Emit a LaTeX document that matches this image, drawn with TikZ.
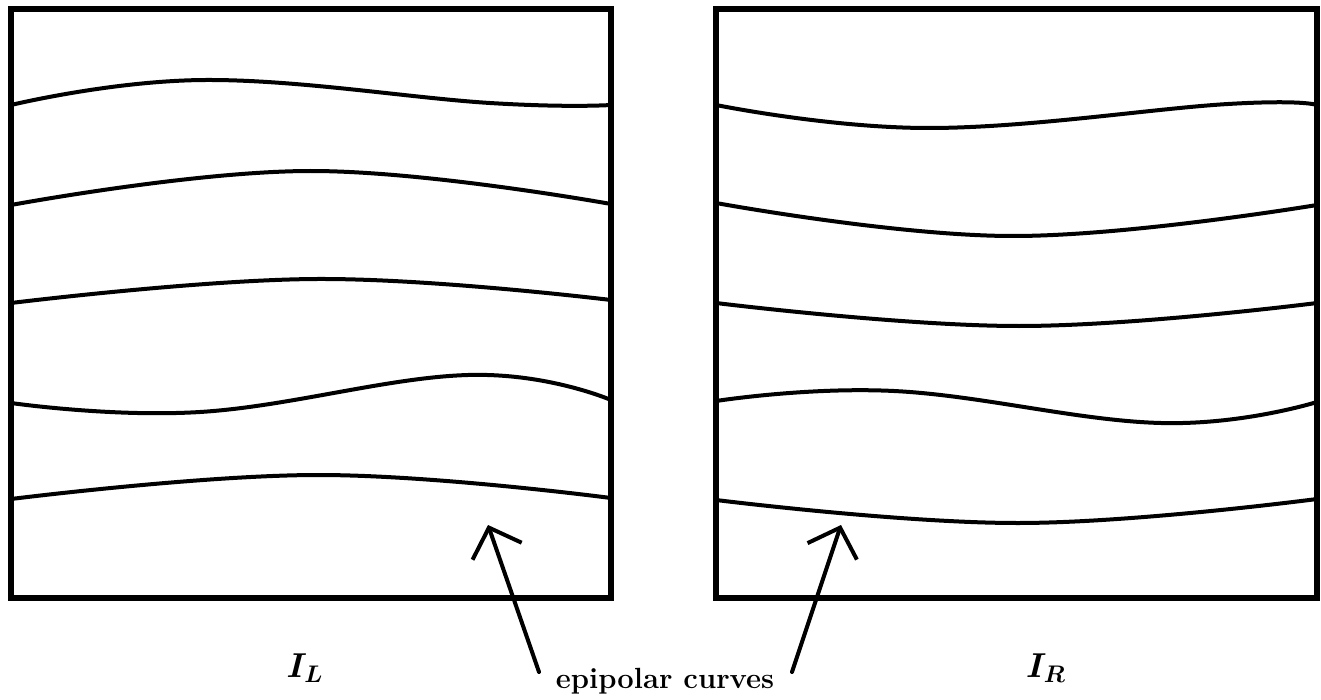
\documentclass[tikz,border=0pt]{standalone}
\usepackage{bm}
\usetikzlibrary{arrows.meta}
\tikzset{
  frame/.style={line width=2.7pt, line join=miter},
  curve/.style={line width=2pt, line cap=round},
  pointer/.style={line width=2pt, line cap=round, -{Straight Barb[length=12.5pt,width=26pt,line width=2pt]}},
  lbl/.style={font=\fontsize{17}{20}\selectfont, inner sep=0pt},
  txt/.style={font=\bfseries\fontsize{14.6}{17}\selectfont, inner sep=0pt, anchor=base}
}
\begin{document}
\begin{tikzpicture}[x=0.5pt,y=-0.5pt]
\useasboundingbox (0,0) rectangle (1321,700);
% frames
\draw[frame] (11,9) rectangle (611,598);
\draw[frame] (716,9) rectangle (1317,598);
% left curves
\draw[curve] plot[smooth, tension=0.7] coordinates {(11,105) (206,80) (490,103) (611,105)};
\draw[curve] plot[smooth, tension=0.7] coordinates {(11,205) (310,171) (611,204)};
\draw[curve] plot[smooth, tension=0.7] coordinates {(11,303) (317,279) (611,300)};
\draw[curve] plot[smooth, tension=0.7] coordinates {(11,403) (200,412) (468,375) (611,400)};
\draw[curve] plot[smooth, tension=0.7] coordinates {(11,499) (317,475) (611,498)};
% right curves
\draw[curve] plot[smooth, tension=0.7] coordinates {(716,105) (930,128) (1228,104) (1317,105)};
\draw[curve] plot[smooth, tension=0.7] coordinates {(716,203) (1011,236) (1317,205)};
\draw[curve] plot[smooth, tension=0.7] coordinates {(716,303) (1019,326) (1317,303)};
\draw[curve] plot[smooth, tension=0.7] coordinates {(716,401) (894,391) (1161,423) (1317,402)};
\draw[curve] plot[smooth, tension=0.7] coordinates {(716,500) (1019,523) (1317,499)};
% labels
\node[lbl] (IL) at (305,668) {$\bm{I}_{\bm{L}}$};
\node[lbl] (IR) at (1046,668) {$\bm{I}_{\bm{R}}$};
\node[txt] (epi) at (665,688) {epipolar curves};
% arrows
\coordinate (tailL) at (539,672);
\coordinate (tipL) at (488,525);
\coordinate (tailR) at (792,672);
\coordinate (tipR) at (841,525);
\draw[pointer] (tailL) -- (tipL);
\draw[pointer] (tailR) -- (tipR);
\end{tikzpicture}
\end{document}
